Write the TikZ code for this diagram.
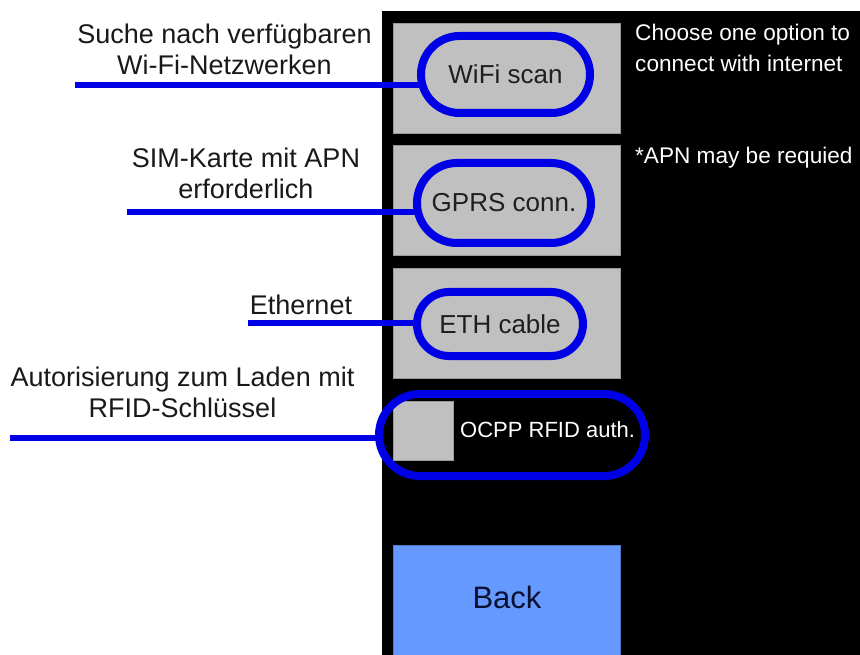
\documentclass[tikz,border=0pt]{standalone}
\usepackage{fontspec}
\setmainfont{Liberation Sans}
\usetikzlibrary{shapes.misc,calc}
\definecolor{btngrey}{HTML}{C0C0C0}
\definecolor{ringblue}{HTML}{0000E6}
\definecolor{backblue}{HTML}{6699FF}
\definecolor{backtext}{HTML}{0A1030}
\begin{document}
\begin{tikzpicture}[x=1pt,y=-1pt,
  btn/.style={fill=btngrey, draw=btngrey!80!black, line width=0.6},
  ring/.style={rounded rectangle, draw=ringblue, line width=8, inner sep=0,
    font=\fontsize{26}{30}\selectfont, text=black!88},
  lead/.style={draw=ringblue, line width=6},
  note/.style={align=center, inner sep=0, font=\fontsize{27}{31}\selectfont, text=black!90},
  screentext/.style={inner sep=0, align=left, font=\fontsize{22.6}{31}\selectfont, text=white}]
\useasboundingbox (0,0) rectangle (860,655);

% device screen
\fill[black] (382,11) rectangle (860,655);

% grey option buttons
\path[btn] (393,23) rectangle (620,133);
\path[btn] (393,145) rectangle (620,255);
\path[btn] (393,268) rectangle (620,378);
\path[btn] (393,401) rectangle (453,460);
\path[fill=backblue, draw=backblue!80!black, line width=0.6] (393,545) rectangle (620,662);

% free ends of the leader lines
\coordinate (wifiend) at (75,85);
\coordinate (gprsend) at (127,212);
\coordinate (ethend) at (248,323);
\coordinate (rfidend) at (10,438);

% highlighted options
\node[ring, minimum width=169, minimum height=77] (wifi) at (505.5,74.5) {WiFi scan};
\node[ring, minimum width=174, minimum height=80] (gprs) at (504,203) {GPRS conn.};
\node[ring, minimum width=166, minimum height=64] (eth) at (500,324) {ETH cable};
\node[ring, minimum width=266, minimum height=82] (rfid) at (512,435) {};
\node[anchor=base west, inner sep=0, font=\fontsize{22}{26}\selectfont, text=white] (rfidtext) at (460,437) {OCPP RFID auth.};
\node[inner sep=0, font=\fontsize{31}{36}\selectfont, text=backtext] (back) at (507,597) {Back};

% leader lines
\draw[lead] (wifiend) -- ($(wifi.west |- wifiend)+(5,0)$);
\draw[lead] (gprsend) -- ($(gprs.west |- gprsend)+(5,0)$);
\draw[lead] (ethend) -- ($(eth.west |- ethend)+(5,0)$);
\draw[lead] (rfidend) -- ($(rfid.west |- rfidend)+(5,0)$);

% screen hints (base anchor sits on the last line)
\node[screentext, anchor=base west] (hint) at (635,72) {Choose one option to\\connect with internet};
\node[screentext, anchor=base west] (apn) at (635,164) {*APN may be requied};

% annotations (base anchor sits on the last line)
\node[note, anchor=base] (lblwifi) at (224.5,75) {Suche nach verfügbaren\\Wi-Fi-Netzwerken};
\node[note, anchor=base] (lblgprs) at (246,199) {SIM-Karte mit APN\\erforderlich};
\node[note, anchor=base] (lbleth) at (301,314) {Ethernet};
\node[note, anchor=base] (lblrfid) at (182.5,417) {Autorisierung zum Laden mit\\RFID-Schlüssel};
\end{tikzpicture}
\end{document}
